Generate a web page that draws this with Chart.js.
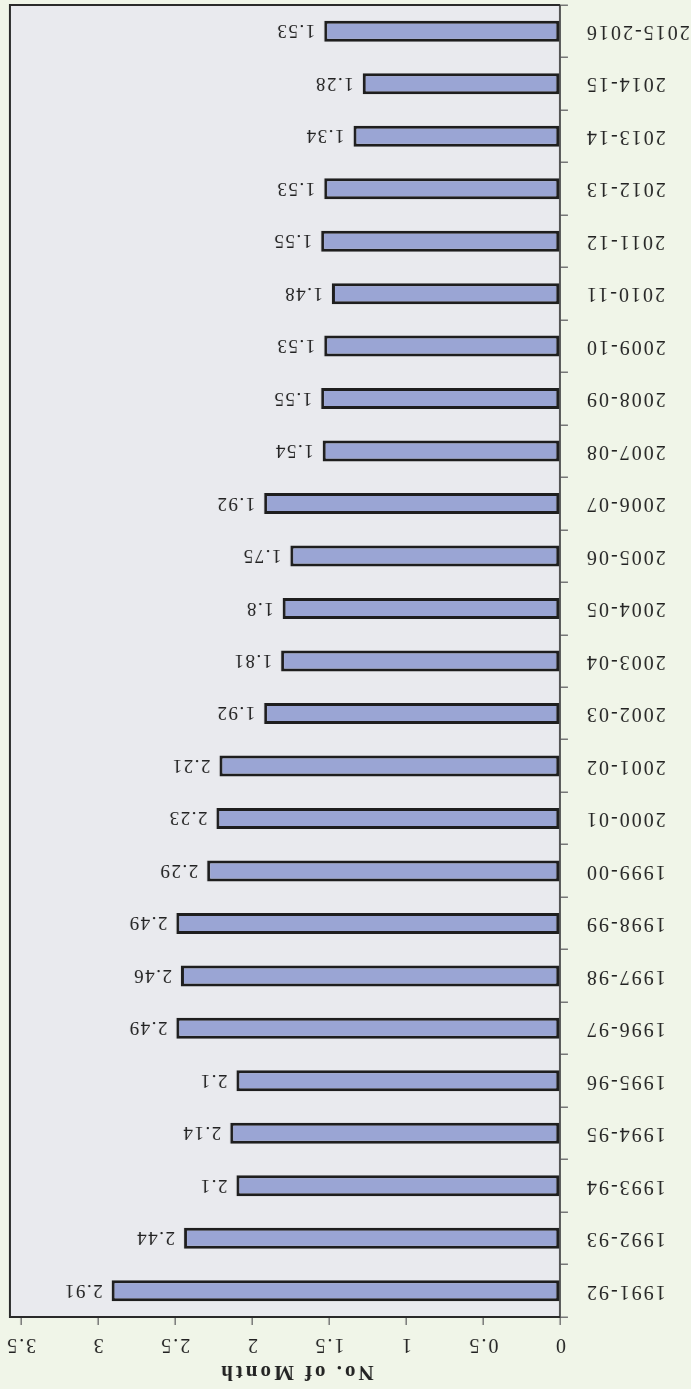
<!DOCTYPE html>
<html>
<head>
<meta charset="utf-8">
<script src="https://cdn.jsdelivr.net/npm/chart.js@4.4.1/dist/chart.umd.min.js"></script>
<style>
  html, body { margin: 0; padding: 0; background: #F0F5E8; }
  #wrap { width: 691px; height: 1389px; transform: rotate(180deg); transform-origin: 50% 50%; }
  canvas { display: block; }
</style>
</head>
<body>
<div id="wrap"><canvas id="c" width="691" height="1389"></canvas></div>
<script>
const categories = ["1991-92","1992-93","1993-94","1994-95","1995-96","1996-97","1997-98","1998-99","1999-00","2000-01","2001-02","2002-03","2003-04","2004-05","2005-06","2006-07","2007-08","2008-09","2009-10","2010-11","2011-12","2012-13","2013-14","2014-15","2015-2016"];
const values = [2.91, 2.44, 2.1, 2.14, 2.1, 2.49, 2.46, 2.49, 2.29, 2.23, 2.21, 1.92, 1.81, 1.8, 1.75, 1.92, 1.54, 1.55, 1.53, 1.48, 1.55, 1.53, 1.34, 1.28, 1.53];
const valueLabels = ["2.91","2.44","2.1","2.14","2.1","2.49","2.46","2.49","2.29","2.23","2.21","1.92","1.81","1.8","1.75","1.92","1.54","1.55","1.53","1.48","1.55","1.53","1.34","1.28","1.53"];
const xTicks = [0, 0.5, 1, 1.5, 2, 2.5, 3, 3.5];
const axisTitle = "No. of Month";

const FONT = "'Liberation Serif', 'Times New Roman', serif";
const textColor = "#222222";

const spacingPlugin = {
  id: 'spacing',
  beforeUpdate(chart) { chart.ctx.letterSpacing = '2px'; },
  beforeDraw(chart) { chart.ctx.letterSpacing = '2px'; }
};

const bgPlugin = {
  id: 'plotbg',
  beforeDraw(chart) {
    const a = chart.chartArea, ctx = chart.ctx;
    ctx.save();
    ctx.fillStyle = '#E9EAEE';
    ctx.fillRect(a.left, a.top, a.right - a.left, a.bottom - a.top);
    ctx.restore();
  },
  afterDraw(chart) {
    const a = chart.chartArea, ctx = chart.ctx;
    ctx.save();
    ctx.strokeStyle = '#2a2a2a';
    ctx.lineWidth = 2;
    ctx.beginPath();
    ctx.moveTo(a.left, a.top);
    ctx.lineTo(a.right, a.top);
    ctx.lineTo(a.right, a.bottom);
    ctx.lineTo(a.left, a.bottom);
    ctx.stroke();
    ctx.restore();
  }
};

const labelPlugin = {
  id: 'vlabels',
  afterDatasetsDraw(chart) {
    const ctx = chart.ctx;
    const meta = chart.getDatasetMeta(0);
    ctx.save();
    ctx.letterSpacing = '1.5px';
    ctx.font = "19px " + FONT;
    ctx.fillStyle = textColor;
    ctx.textAlign = 'left';
    ctx.textBaseline = 'middle';
    meta.data.forEach((bar, i) => {
      ctx.fillText(valueLabels[i], bar.x + 9, bar.y + 1);
    });
    ctx.restore();
  }
};

function wrapTitle(s) {
  if (s._wrappedTitle) return;
  const orig = s.drawTitle.bind(s);
  s.drawTitle = function () {
    const ctx = s.ctx;
    ctx.save();
    ctx.letterSpacing = '3px';
    ctx.translate(-11, 0);
    orig();
    ctx.restore();
  };
  s._wrappedTitle = true;
}

new Chart(document.getElementById('c'), {
  type: 'bar',
  data: {
    labels: categories,
    datasets: [{
      data: values,
      backgroundColor: '#9AA5D4',
      borderColor: '#1E1E1E',
      borderWidth: 3,
      borderSkipped: false,
      barPercentage: 0.4,
      categoryPercentage: 1
    }]
  },
  options: {
    indexAxis: 'y',
    responsive: false,
    animation: false,
    devicePixelRatio: 1,
    layout: { padding: { left: 0, right: 10, top: 0, bottom: 5 } },
    plugins: { legend: { display: false }, tooltip: { enabled: false } },
    scales: {
      x: {
        position: 'top',
        min: 0,
        max: 3.57,
        afterBuildTicks: s => { s.ticks = xTicks.map(v => ({ value: v })); },
        afterFit: s => { s.height = 72; s.paddingLeft = 0; s.paddingRight = 0; wrapTitle(s); },
        ticks: { font: { family: FONT, size: 20 }, color: textColor, padding: 7, autoSkip: false, maxRotation: 0, callback: v => String(v) },
        grid: { drawOnChartArea: false, tickLength: 8, color: '#777777', lineWidth: 1.5 },
        border: { color: '#555555', width: 2 },
        title: { display: true, text: axisTitle, color: textColor, font: { family: FONT, size: 21, weight: 'bold' }, padding: { top: 5, bottom: 0 } }
      },
      y: {
        afterFit: s => { s.width = 131; s.paddingTop = 0; s.paddingBottom = 0; },
        ticks: { font: { family: FONT, size: 20 }, color: textColor, padding: 17, autoSkip: false },
        grid: { drawOnChartArea: false, tickLength: 8, color: '#777777', lineWidth: 1.5, offset: true },
        border: { color: '#555555', width: 2 }
      }
    }
  },
  plugins: [spacingPlugin, bgPlugin, labelPlugin]
});
</script>
</body>
</html>
